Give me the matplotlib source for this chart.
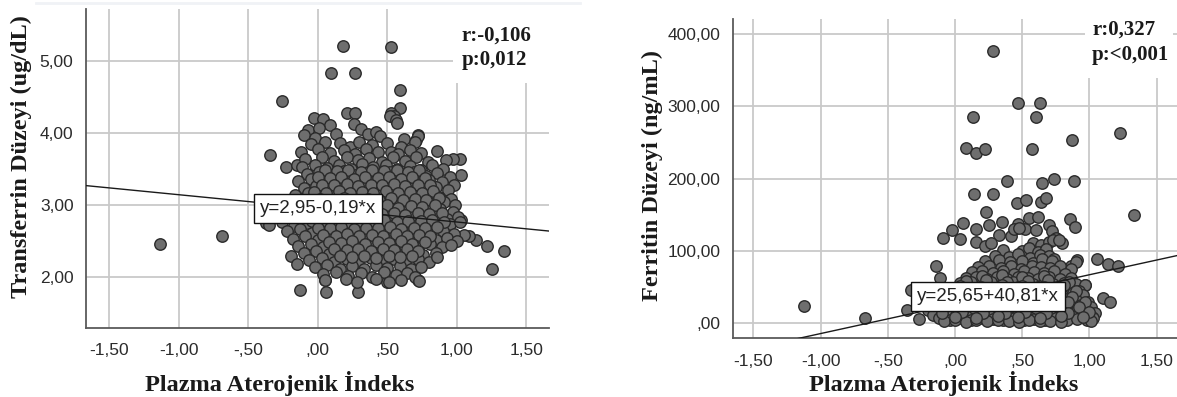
import matplotlib
matplotlib.use("Agg")
import matplotlib.pyplot as plt
from matplotlib.patches import Rectangle
from matplotlib.lines import Line2D
import numpy as np

# ---------------- data ----------------
x_ticks = [-1.5, -1.0, -0.5, 0.0, 0.5, 1.0, 1.5]
x_tick_labels = ["-1,50", "-1,00", "-,50", ",00", ",50", "1,00", "1,50"]
tf_ticks = [2, 3, 4, 5]
tf_tick_labels = ["2,00", "3,00", "4,00", "5,00"]
fe_ticks = [0, 100, 200, 300, 400]
fe_tick_labels = [",00", "100,00", "200,00", "300,00", "400,00"]

tf_intercept, tf_slope = 2.95, -0.19
fe_intercept, fe_slope = 25.65, 40.81

# Transferrin panel points (PAI, transferrin)
tf_x = [
    -1.13, -0.69, -0.34, -0.26, -0.37, -0.23, -0.15, -0.19, -0.15, -0.13, 0.06, 0.29,
    0.18, 0.53, 0.095, 0.27, 0.59, 0.59, 0.53, 0.55, 1.34, 1.25, 1.215, 1.14, 1.09, 1.05,
    1.03, 1.03, 1.02, 0.97, 0.86, 0.72, 0.71, 0.05, 0.50, 0.72, 0.70,
    -0.03, 0.04, 0.21, 0.27, 0.52, 0.56,
    -0.07, 0.09, 0.26, 0.31, 0.57, 0.01,
    -0.10, -0.02, 0.13, 0.36, 0.42, 0.45, 0.62, 0.72,
    -0.05, 0.05, 0.16, 0.23, 0.30, 0.39, 0.50, 0.60, 0.70,
    -0.12, 0.00, 0.09, 0.19, 0.27, 0.35, 0.43, 0.53, 0.58, 0.66, 0.74,
    -0.09, 0.03, 0.12, 0.21, 0.29, 0.37, 0.46, 0.54, 0.63, 0.71, 0.79, 0.92,
    -0.11, -0.02, 0.07, 0.15, 0.24, 0.32, 0.40, 0.49, 0.57, 0.66, 0.74, 0.82, 0.90,
    -0.08, 0.01, 0.10, 0.19, 0.27, 0.36, 0.44, 0.52, 0.61, 0.69, 0.78, 0.86, 0.95,
    -0.14, -0.05, 0.04, 0.13, 0.21, 0.30, 0.38, 0.47, 0.55, 0.64, 0.72, 0.80, 0.89, 0.98,
    -0.10, -0.01, 0.08, 0.17, 0.25, 0.34, 0.42, 0.51, 0.59, 0.68, 0.76, 0.85, 0.94,
    -0.16, -0.07, 0.02, 0.11, 0.19, 0.28, 0.36, 0.45, 0.53, 0.62, 0.70, 0.79, 0.87, 0.96,
    -0.20, -0.11, -0.03, 0.06, 0.15, 0.23, 0.32, 0.40, 0.49, 0.57, 0.66, 0.74, 0.83, 0.91, 0.99,
    -0.24, -0.15, -0.06, 0.03, 0.11, 0.20, 0.28, 0.37, 0.45, 0.54, 0.62, 0.71, 0.79, 0.88, 0.97,
    -0.28, -0.19, -0.10, -0.01, 0.08, 0.16, 0.25, 0.33, 0.42, 0.50, 0.59, 0.67, 0.76, 0.84, 0.93, 1.01,
    -0.35, -0.26, -0.17, -0.08, 0.01, 0.10, 0.18, 0.27, 0.35, 0.44, 0.52, 0.61, 0.69, 0.78, 0.86, 0.95, 1.02,
    -0.22, -0.13, -0.04, 0.05, 0.13, 0.22, 0.30, 0.39, 0.47, 0.56, 0.64, 0.73, 0.81, 0.90, 0.98,
    -0.18, -0.09, 0.00, 0.09, 0.17, 0.26, 0.34, 0.43, 0.51, 0.60, 0.68, 0.77, 0.85, 0.93, 1.00,
    -0.14, -0.05, 0.04, 0.13, 0.21, 0.30, 0.38, 0.47, 0.55, 0.64, 0.72, 0.81, 0.89, 0.96,
    -0.10, -0.01, 0.08, 0.17, 0.25, 0.34, 0.42, 0.51, 0.59, 0.68, 0.76, 0.85,
    -0.06, 0.03, 0.12, 0.21, 0.29, 0.38, 0.46, 0.55, 0.63, 0.72, 0.80, 0.86,
    -0.02, 0.07, 0.16, 0.25, 0.33, 0.42, 0.50, 0.59, 0.67, 0.74,
    0.04, 0.13, 0.22, 0.31, 0.39, 0.48, 0.56, 0.64, 0.70,
    0.05, 0.20, 0.28, 0.42, 0.51, 0.60, 0.73,
    # denser core
    0.05, 0.14, 0.22, 0.31, 0.39, 0.48, 0.57, 0.65, 0.73,
    0.00, 0.09, 0.17, 0.26, 0.34, 0.43, 0.51, 0.60, 0.68, 0.77,
    0.03, 0.12, 0.21, 0.29, 0.38, 0.46, 0.55, 0.63, 0.72, 0.81,
    -0.03, 0.06, 0.15, 0.23, 0.32, 0.40, 0.49, 0.58, 0.66, 0.75, 0.83,
    0.02, 0.10, 0.19, 0.27, 0.36, 0.44, 0.53, 0.61, 0.70, 0.78, 0.87,
    -0.02, 0.07, 0.15, 0.24, 0.33, 0.41, 0.50, 0.58, 0.67, 0.75, 0.84,
    0.03, 0.12, 0.20, 0.29, 0.37, 0.46, 0.55, 0.63, 0.72, 0.80, 0.89,
    -0.04, 0.05, 0.14, 0.22, 0.31, 0.39, 0.48, 0.57, 0.65, 0.74, 0.82, 0.91,
    0.00, 0.09, 0.17, 0.26, 0.35, 0.43, 0.52, 0.60, 0.69, 0.77, 0.86,
    0.04, 0.13, 0.21, 0.30, 0.39, 0.47, 0.56, 0.64, 0.73, 0.81,
    0.08, 0.17, 0.25, 0.34, 0.43, 0.51, 0.60, 0.68, 0.77,
    0.12, 0.21, 0.29, 0.38, 0.47, 0.55, 0.64, 0.72,
    0.16, 0.25, 0.33, 0.42, 0.51, 0.59, 0.68,
]
tf_y = [
    2.45, 2.56, 3.69, 4.45, 2.74, 3.53, 3.56, 2.29, 2.17, 1.82, 1.79, 1.79,
    5.21, 5.20, 4.84, 4.84, 4.60, 4.35, 4.27, 4.24, 2.36, 2.10, 2.42, 2.51, 2.56, 2.58,
    2.79, 3.42, 3.63, 3.63, 3.75, 3.97, 3.90, 1.95, 1.93, 1.95, 2.10,
    4.21, 4.19, 4.28, 4.27, 4.23, 4.18,
    4.04, 4.11, 4.13, 4.06, 4.14, 4.07,
    3.97, 3.93, 3.99, 3.98, 4.01, 3.95, 3.92, 3.96,
    3.84, 3.88, 3.86, 3.81, 3.87, 3.83, 3.86, 3.81, 3.88,
    3.74, 3.78, 3.72, 3.76, 3.71, 3.77, 3.73, 3.74, 3.70, 3.76, 3.72,
    3.63, 3.66, 3.61, 3.67, 3.62, 3.65, 3.60, 3.67, 3.61, 3.66, 3.60, 3.62,
    3.52, 3.56, 3.51, 3.55, 3.50, 3.57, 3.52, 3.55, 3.50, 3.54, 3.49, 3.55, 3.50,
    3.43, 3.46, 3.41, 3.47, 3.42, 3.45, 3.40, 3.46, 3.41, 3.45, 3.40, 3.44, 3.38,
    3.33, 3.36, 3.31, 3.35, 3.30, 3.36, 3.32, 3.35, 3.30, 3.34, 3.30, 3.35, 3.31, 3.28,
    3.23, 3.26, 3.21, 3.25, 3.20, 3.26, 3.22, 3.25, 3.20, 3.24, 3.20, 3.25, 3.21,
    3.13, 3.16, 3.11, 3.15, 3.10, 3.16, 3.12, 3.15, 3.10, 3.14, 3.10, 3.15, 3.11, 3.08,
    3.03, 3.06, 3.01, 3.05, 3.00, 3.06, 3.02, 3.05, 3.00, 3.04, 3.00, 3.05, 3.01, 3.04, 3.00,
    2.93, 2.96, 2.91, 2.95, 2.90, 2.96, 2.92, 2.95, 2.90, 2.94, 2.90, 2.95, 2.91, 2.94, 2.90,
    2.83, 2.86, 2.81, 2.85, 2.80, 2.86, 2.82, 2.85, 2.80, 2.84, 2.80, 2.85, 2.81, 2.84, 2.80, 2.83,
    2.72, 2.76, 2.71, 2.75, 2.70, 2.76, 2.72, 2.75, 2.70, 2.74, 2.70, 2.75, 2.71, 2.74, 2.70, 2.73, 2.76,
    2.63, 2.66, 2.61, 2.65, 2.60, 2.66, 2.62, 2.65, 2.60, 2.64, 2.60, 2.65, 2.61, 2.64, 2.60,
    2.53, 2.56, 2.51, 2.55, 2.50, 2.56, 2.52, 2.55, 2.50, 2.54, 2.50, 2.55, 2.51, 2.54, 2.49,
    2.43, 2.46, 2.41, 2.45, 2.40, 2.46, 2.42, 2.45, 2.40, 2.44, 2.40, 2.45, 2.41, 2.44,
    2.33, 2.36, 2.31, 2.35, 2.30, 2.36, 2.32, 2.35, 2.30, 2.34, 2.30, 2.33,
    2.23, 2.26, 2.21, 2.25, 2.20, 2.26, 2.22, 2.25, 2.20, 2.24, 2.21, 2.27,
    2.13, 2.16, 2.11, 2.15, 2.10, 2.16, 2.12, 2.15, 2.10, 2.14,
    2.03, 2.06, 2.01, 2.05, 2.00, 2.06, 2.02, 2.05, 2.00,
    1.95, 1.97, 1.93, 1.96, 1.92, 1.95, 1.94,
    # denser core
    3.48, 3.47, 3.49, 3.46, 3.48, 3.47, 3.49, 3.46, 3.48,
    3.38, 3.37, 3.39, 3.36, 3.38, 3.37, 3.39, 3.36, 3.38, 3.37,
    3.28, 3.27, 3.29, 3.26, 3.28, 3.27, 3.29, 3.26, 3.28, 3.27,
    3.18, 3.17, 3.19, 3.16, 3.18, 3.17, 3.19, 3.16, 3.18, 3.17, 3.19,
    3.08, 3.07, 3.09, 3.06, 3.08, 3.07, 3.09, 3.06, 3.08, 3.07, 3.09,
    2.98, 2.97, 2.99, 2.96, 2.98, 2.97, 2.99, 2.96, 2.98, 2.97, 2.99,
    2.88, 2.87, 2.89, 2.86, 2.88, 2.87, 2.89, 2.86, 2.88, 2.87, 2.89,
    2.78, 2.77, 2.79, 2.76, 2.78, 2.77, 2.79, 2.76, 2.78, 2.77, 2.79, 2.76,
    2.68, 2.67, 2.69, 2.66, 2.68, 2.67, 2.69, 2.66, 2.68, 2.67, 2.69,
    2.58, 2.57, 2.59, 2.56, 2.58, 2.57, 2.59, 2.56, 2.58, 2.57,
    2.48, 2.47, 2.49, 2.46, 2.48, 2.47, 2.49, 2.46, 2.48,
    2.38, 2.37, 2.39, 2.36, 2.38, 2.37, 2.39, 2.36,
    2.28, 2.27, 2.29, 2.26, 2.28, 2.27, 2.29,
]

# Ferritin panel points (PAI, ferritin)
fe_x = [
    -1.12, -0.67, -0.36, -0.33, -0.14, -0.11,
    0.28, 0.47, 0.63, 0.136, 0.60, 1.23, 0.08, 0.156, 0.22, 0.57, 0.87, 0.39, 0.65, 0.74,
    0.885, 0.14, 0.28, 0.46, 0.53, 0.64, 0.68, 1.33, 0.23, -0.087, -0.02, 0.062, 0.04,
    0.16, 0.25, 0.35, 0.33, 0.47, 0.52, 0.55, 0.62, 0.60, 0.70, 0.72, 0.75, 0.856, 0.89,
    0.16, 0.22, 0.27, 0.42, 0.44, 0.48, 0.58, 0.64, 0.66, 0.70, 0.80, 0.73, 0.776,
    1.06, 1.14, 1.215, 1.10, 1.15, 0.967, 0.905, 0.86,
    0.36, 0.50, 0.55, 0.62, 0.68,
    0.30, 0.40, 0.47, 0.56, 0.63, 0.70, 0.74,
    0.22, 0.33, 0.41, 0.50, 0.58, 0.65, 0.72, 0.90,
    0.17, 0.25, 0.34, 0.42, 0.49, 0.57, 0.64, 0.71, 0.78, 0.86,
    0.13, 0.20, 0.28, 0.36, 0.44, 0.51, 0.59, 0.66, 0.74, 0.82,
    0.08, 0.16, 0.24, 0.31, 0.39, 0.47, 0.54, 0.62, 0.70, 0.78, 0.86,
    0.04, 0.12, 0.20, 0.27, 0.35, 0.43, 0.50, 0.58, 0.66, 0.73, 0.81, 0.90, 0.97,
    0.00, 0.08, 0.16, 0.23, 0.31, 0.39, 0.46, 0.54, 0.62, 0.69, 0.77, 0.85, 0.92,
    -0.05, 0.03, 0.11, 0.19, 0.27, 0.34, 0.42, 0.50, 0.57, 0.65, 0.73, 0.80, 0.88, 0.95,
    -0.10, -0.02, 0.06, 0.14, 0.22, 0.30, 0.37, 0.45, 0.53, 0.60, 0.68, 0.76, 0.83, 0.91, 0.99,
    -0.13, -0.05, 0.03, 0.10, 0.18, 0.26, 0.34, 0.41, 0.49, 0.57, 0.64, 0.72, 0.80, 0.87, 0.94, 1.01,
    -0.20, -0.10, -0.02, 0.06, 0.14, 0.22, 0.29, 0.37, 0.45, 0.53, 0.60, 0.68, 0.76, 0.83, 0.91, 0.98, 1.04,
    -0.16, -0.07, 0.01, 0.09, 0.17, 0.25, 0.33, 0.41, 0.48, 0.56, 0.64, 0.72, 0.79, 0.87, 0.95, 1.02,
    -0.27, -0.12, -0.04, 0.04, 0.12, 0.20, 0.28, 0.36, 0.44, 0.51, 0.59, 0.67, 0.75, 0.83, 0.91, 0.98, 1.03,
    -0.08, 0.00, 0.08, 0.16, 0.24, 0.32, 0.40, 0.48, 0.55, 0.63, 0.71, 0.79, 1.01,
    # denser core
    0.20, 0.35, 0.50, 0.66,
    0.08, 0.23, 0.39, 0.54, 0.69, 0.85,
    0.04, 0.19, 0.35, 0.50, 0.66, 0.81,
    0.00, 0.15, 0.31, 0.46, 0.61, 0.77, 0.90,
    -0.02, 0.10, 0.26, 0.41, 0.56, 0.72, 0.87,
    -0.06, 0.07, 0.22, 0.38, 0.53, 0.68, 0.84, 0.97,
    0.00, 0.14, 0.30, 0.45, 0.60, 0.76, 0.92,
    -0.10, 0.05, 0.21, 0.37, 0.52, 0.68, 0.84, 1.00,
    0.00, 0.16, 0.32, 0.47, 0.63, 0.79, 0.95,
]
fe_y = [
    23, 6, 17, 46, 78, 62,
    377, 305, 305, 285, 285, 263, 242, 236, 241, 241, 253, 196, 194, 200,
    197, 179, 179, 166, 170, 168, 173, 150, 154, 117, 128, 138, 116,
    130, 136, 139, 122, 137, 130, 145, 147, 128, 135, 127, 118, 144, 133,
    112, 106, 110, 120, 130, 132, 110, 108, 100, 112, 110, 115, 115,
    88, 82, 79, 34, 28, 52, 87, 78,
    101, 99, 103, 98, 102,
    93, 91, 95, 90, 94, 92, 89,
    85, 87, 84, 86, 83, 88, 85, 84,
    77, 79, 76, 78, 75, 79, 77, 76, 78, 75,
    70, 71, 69, 72, 68, 71, 70, 69, 72, 68,
    62, 63, 61, 64, 60, 63, 62, 61, 64, 60, 62,
    55, 56, 54, 57, 53, 56, 55, 54, 57, 53, 55, 54, 52,
    47, 48, 46, 49, 45, 48, 47, 46, 49, 45, 47, 46, 44,
    40, 41, 39, 42, 38, 41, 40, 39, 42, 38, 40, 39, 41, 38,
    32, 33, 31, 34, 30, 33, 32, 31, 34, 30, 32, 31, 33, 30, 29,
    25, 26, 24, 27, 23, 26, 25, 24, 27, 23, 25, 24, 26, 23, 25, 22,
    18, 19, 17, 20, 16, 19, 18, 17, 20, 16, 18, 17, 19, 16, 18, 15, 14,
    11, 12, 10, 13, 9, 12, 11, 10, 13, 9, 11, 10, 12, 9, 11, 8,
    5, 6, 4, 7, 3, 6, 5, 4, 7, 3, 5, 4, 6, 3, 5, 4, 6,
    2, 3, 1, 3, 2, 3, 2, 1, 3, 2, 2, 1, 2,
    # denser core
    65, 66, 64, 65,
    58, 59, 57, 58, 59, 57,
    51, 50, 52, 51, 50, 52,
    44, 45, 43, 44, 45, 43, 44,
    36, 37, 35, 36, 37, 35, 36,
    29, 28, 30, 29, 28, 30, 29, 28,
    22, 21, 23, 22, 21, 23, 22,
    14, 15, 13, 14, 15, 13, 14, 15,
    8, 7, 9, 8, 7, 9, 8,
]

# ---------------- styling ----------------
SERIF = ["Liberation Serif", "DejaVu Serif"]
SANS = ["Liberation Sans", "DejaVu Sans"]
GRID = "#c9c9c9"
SPINE = "#5a5a5a"
FILL = "#6e6e6e"
EDGE = "#2a2a2a"
TICKC = "#2b2b2b"

fig = plt.figure(figsize=(11.77, 3.97), dpi=100)
fig.patch.set_facecolor("white")

ax1 = fig.add_axes([0.0731, 0.1738, 0.3934, 0.8028])
ax2 = fig.add_axes([0.6225, 0.1479, 0.3775, 0.8035])


def style(ax, xlim, ylim, yt, ytl):
    ax.set_xlim(*xlim)
    ax.set_ylim(*ylim)
    ax.set_xticks(x_ticks)
    ax.set_xticklabels(x_tick_labels, family=SANS, fontsize=12.5, color=TICKC)
    ax.set_yticks(yt)
    ax.set_yticklabels(ytl, family=SANS, fontsize=12.5, color=TICKC)
    ax.tick_params(length=0, pad=9)
    ax.tick_params(axis="x", pad=11)
    ax.grid(True, color=GRID, lw=1.3, zorder=0)
    ax.set_axisbelow(True)
    for s in ["top", "right"]:
        ax.spines[s].set_visible(False)
    for s in ["left", "bottom"]:
        ax.spines[s].set_color(SPINE)
        ax.spines[s].set_linewidth(1.3)


style(ax1, (-1.665, 1.663), (1.285, 5.72), tf_ticks, tf_tick_labels)
style(ax2, (-1.654, 1.652), (-21.7, 421), fe_ticks, fe_tick_labels)

# scatter
ax1.scatter(tf_x, tf_y, s=68, facecolor=FILL, edgecolor=EDGE, linewidth=1.0, zorder=3)
ax2.scatter(fe_x, fe_y, s=68, facecolor=FILL, edgecolor=EDGE, linewidth=1.0, zorder=3)

# regression lines
xx = np.array([-1.7, 1.7])
ax1.plot(xx, tf_intercept + tf_slope * xx, color="#1a1a1a", lw=1.0, zorder=4)
ax2.plot(xx, fe_intercept + fe_slope * xx, color="#1a1a1a", lw=1.0, zorder=4)

# equation boxes
bbox = dict(boxstyle="square,pad=0.32", facecolor="white", edgecolor="#111111", lw=1.0)
ax1.text(0.0, tf_intercept, "y=2,95-0,19*x", ha="center", va="center",
         family=SANS, fontsize=13.5, color="#222222", bbox=bbox, zorder=5)
ax2.text(0.245, fe_intercept + fe_slope * 0.245, "y=25,65+40,81*x", ha="center", va="center",
         family=SANS, fontsize=13.5, color="#222222", bbox=bbox, zorder=5)

# r / p annotation boxes
ax1.add_patch(Rectangle((0.793, 0.769), 0.21, 0.235, transform=ax1.transAxes,
                        facecolor="white", edgecolor="none", zorder=1.5, clip_on=False))
ax1.text(0.811, 0.918, "r:-0,106", transform=ax1.transAxes, ha="left", va="center",
         family=SERIF, fontweight="bold", fontsize=15, color="#1a1a1a", zorder=6)
ax1.text(0.811, 0.840, "p:0,012", transform=ax1.transAxes, ha="left", va="center",
         family=SERIF, fontweight="bold", fontsize=15, color="#1a1a1a", zorder=6)

ax2.add_patch(Rectangle((0.793, 0.816), 0.198, 0.19, transform=ax2.transAxes,
                        facecolor="white", edgecolor="none", zorder=1.5, clip_on=False))
ax2.text(0.809, 0.967, "r:0,327", transform=ax2.transAxes, ha="left", va="center",
         family=SERIF, fontweight="bold", fontsize=15, color="#1a1a1a", zorder=6)
ax2.text(0.809, 0.889, "p:<0,001", transform=ax2.transAxes, ha="left", va="center",
         family=SERIF, fontweight="bold", fontsize=15, color="#1a1a1a", zorder=6)

# axis labels
fig.text(0.238, 0.035, "Plazma Aterojenik İndeks", ha="center", va="center",
         family=SERIF, fontweight="bold", fontsize=17.5, color="#1a1a1a")
fig.text(0.802, 0.035, "Plazma Aterojenik İndeks", ha="center", va="center",
         family=SERIF, fontweight="bold", fontsize=17.5, color="#1a1a1a")
fig.text(0.0178, 0.6045, "Transferrin Düzeyi (ug/dL)", ha="center", va="center",
         rotation=90, family=SERIF, fontweight="bold", fontsize=17.5, color="#1a1a1a")
fig.text(0.554, 0.559, "Ferritin Düzeyi (ng/mL)", ha="center", va="center",
         rotation=90, family=SERIF, fontweight="bold", fontsize=17.5, color="#1a1a1a")

# faint top border of the left image
fig.add_artist(Line2D([0.031, 0.493], [0.992, 0.992], transform=fig.transFigure,
                      color="#f0f2f6", lw=2.0))

fig.savefig("out.png", dpi=100, facecolor="white")
